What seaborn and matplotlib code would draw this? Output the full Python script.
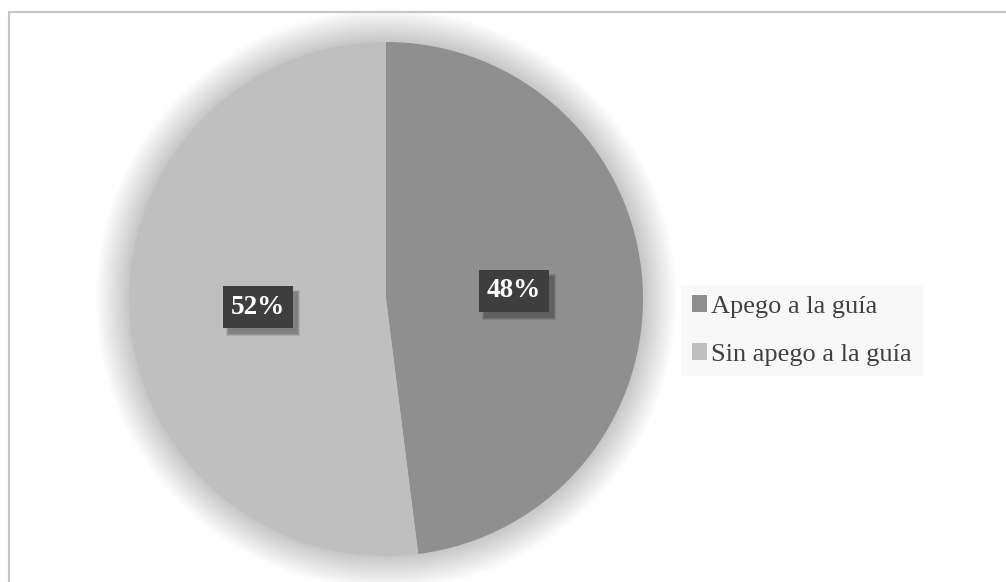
import matplotlib
matplotlib.use("Agg")
import matplotlib.pyplot as plt
from matplotlib.patches import Circle, Rectangle
from matplotlib.transforms import IdentityTransform
import seaborn as sns

categories = ["Apego a la guía", "Sin apego a la guía"]
values = [48, 52]
colors = ["#8f8f8f", "#bfbfbf"]

sns.set_theme(style="white")
plt.rcParams["font.family"] = ["Liberation Serif", "DejaVu Serif"]

W, H, DPI = 1006, 582, 100
fig = plt.figure(figsize=(W / DPI, H / DPI), dpi=DPI)
fig.patch.set_facecolor("white")

# chart-area border (right and bottom edges fall outside the canvas)
fig.patches.append(Rectangle((9 / W, -0.1), 1.2, 1 - 12 / H + 0.1,
                             transform=fig.transFigure, fill=False,
                             edgecolor="#c6c6c6", linewidth=1.5))

# pie axes: centre (386, 299) px, radius 257 px, limits +-1.2
cx, cy, r, lim = 386, 299, 257, 1.2
half = r * lim
ax = fig.add_axes([(cx - half) / W, 1 - (cy + half) / H, 2 * half / W, 2 * half / H])

# soft halo around the pie
n = 28
for i in range(n):
    rad = 1.0 + 0.13 * (n - i) / n
    ax.add_patch(Circle((0, 0), rad, facecolor="black", alpha=0.0065,
                        edgecolor="none", zorder=0))

wedges, texts, autotexts = ax.pie(
    values, colors=colors, startangle=90, counterclock=False, radius=1.0,
    autopct="%1.0f%%", pctdistance=0.5,
    wedgeprops=dict(linewidth=0, zorder=2),
    textprops=dict(color="white", fontsize=19.5, fontweight="bold"),
)
ax.set_xlim(-lim, lim)
ax.set_ylim(-lim, lim)
ax.set_aspect("equal")
ax.axis("off")

for t in autotexts:
    t.set_zorder(5)
    t.set_bbox(dict(boxstyle="square,pad=0.3", facecolor="#3e3e3e",
                    edgecolor="none"))

leg = fig.legend(wedges, categories, loc="center left",
                 bbox_to_anchor=(681 / W, 1 - 330.5 / H),
                 frameon=True, fontsize=19, handlelength=0.6,
                 handleheight=0.6, handletextpad=0.15, borderpad=0.4,
                 labelspacing=0.95, borderaxespad=0, fancybox=False)
leg.get_frame().set_facecolor("#f7f7f7")
leg.get_frame().set_edgecolor("none")
for txt in leg.get_texts():
    txt.set_color("#404040")

# drop shadows behind the percentage boxes
fig.canvas.draw()
for t in autotexts:
    bb = t.get_bbox_patch().get_window_extent()
    for k, a in enumerate((0.10, 0.12, 0.14)):
        g = 2 - k
        ax.add_artist(Rectangle((bb.x0 + 5 - g, bb.y0 - 6 - g),
                                bb.width + 2 * g, bb.height + 2 * g,
                                transform=IdentityTransform(),
                                facecolor="black", alpha=a,
                                edgecolor="none", zorder=4))

fig.savefig("out.png", dpi=DPI, facecolor="white")
